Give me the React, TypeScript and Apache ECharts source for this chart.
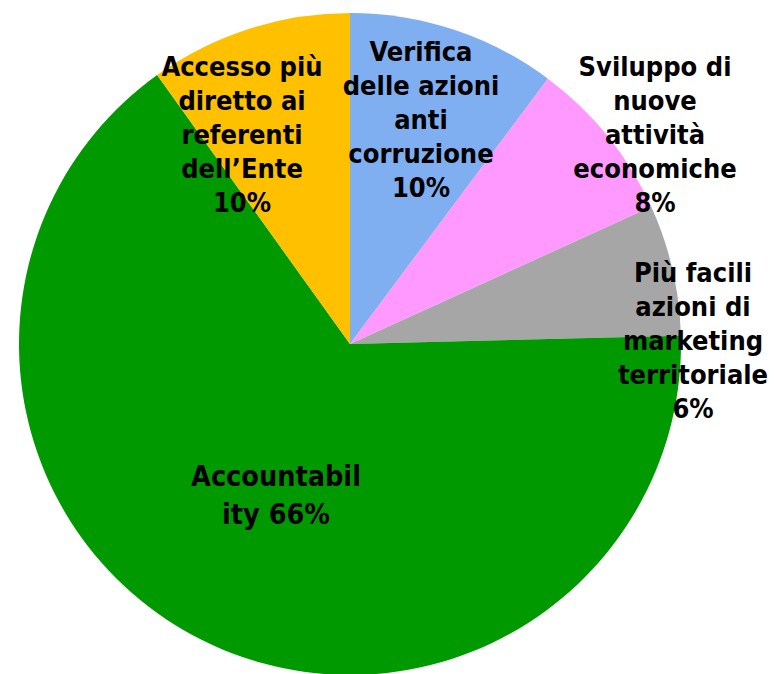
import React, { useEffect, useRef } from "react";
import * as echarts from "echarts";

const categories = [
  "Verifica delle azioni anti corruzione",
  "Sviluppo di nuove attività economiche",
  "Più facili azioni di marketing territoriale",
  "Accountability",
  "Accesso più diretto ai referenti dell’Ente",
];
const labelTexts = [
  "Verifica\ndelle azioni\nanti\ncorruzione",
  "Sviluppo di\nnuove\nattività\neconomiche",
  "Più facili\nazioni di\nmarketing\nterritoriale",
  "Accountabil\nity",
  "Accesso più\ndiretto ai\nreferenti\ndell’Ente",
];
const values = [10.2, 8.0, 6.4, 65.5, 9.9];
const colors = ["#80AFF1", "#FF99FF", "#A6A6A6", "#009900", "#FFC000"];
const labelSizes = [27, 27, 27, 28.5, 27];
const labelPos = [
  [421, 119],
  [655, 134],
  [693, 340],
  [276, 495],
  [242, 134],
];

export default function App() {
  const ref = useRef<HTMLDivElement>(null);
  useEffect(() => {
    const chart = echarts.init(ref.current!, null, { renderer: "svg" });
    chart.setOption({
      animation: false,
      series: [
        {
          type: "pie",
          center: [350, 344],
          radius: 331,
          startAngle: 90,
          clockwise: true,
          data: categories.map((c, i) => ({
            name: c,
            value: values[i],
            itemStyle: { color: colors[i] },
            label: { fontSize: labelSizes[i], lineHeight: i === 3 ? 38 : 34 },
          })),
          label: {
            show: true,
            position: "inside",
            color: "#000",
            fontFamily: "'DejaVu Sans Condensed', 'DejaVu Sans', sans-serif",
            fontWeight: "bold",
            fontSize: 27,
            lineHeight: 34,
            align: "center",
            verticalAlign: "middle",
            formatter: (p: any) => {
              const t = labelTexts[p.dataIndex];
              const pct = Math.round(p.value) + "%";
              return p.dataIndex === 3 ? t + " " + pct : t + "\n" + pct;
            },
          },
          labelLine: { show: false },
          labelLayout: (p: any) => ({
            x: labelPos[p.dataIndex][0],
            y: labelPos[p.dataIndex][1],
            align: "center",
            verticalAlign: "middle",
          }),
          emphasis: { disabled: true },
        },
      ],
    });
    return () => chart.dispose();
  }, []);
  return (
    <div
      ref={ref}
      style={{ position: "absolute", left: 0, top: 0, width: 774, height: 674 }}
    />
  );
}
